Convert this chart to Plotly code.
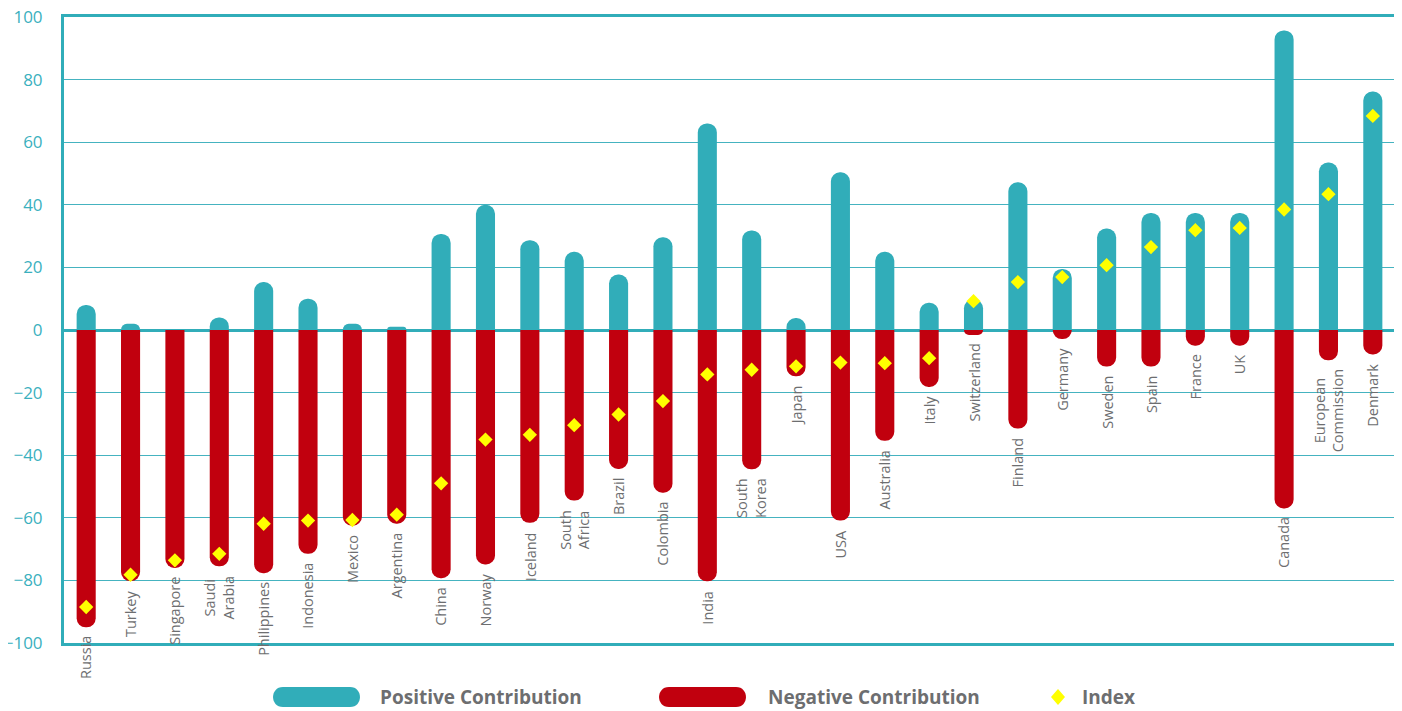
import plotly.graph_objects as go

categories = ["Russia", "Turkey", "Singapore", "Saudi Arabia", "Philippines", "Indonesia",
              "Mexico", "Argentina", "China", "Norway", "Iceland", "South Africa", "Brazil",
              "Colombia", "India", "South Korea", "Japan", "USA", "Australia", "Italy",
              "Switzerland", "Finland", "Germany", "Sweden", "Spain", "France", "UK",
              "Canada", "European Commission", "Denmark"]
tick_labels = ["Russia", "Turkey", "Singapore", "Saudi<br>Arabia", "Philippines", "Indonesia",
               "Mexico", "Argentina", "China", "Norway", "Iceland", "South<br>Africa", "Brazil",
               "Colombia", "India", "South<br>Korea", "Japan", "USA", "Australia", "Italy",
               "Switzerland", "Finland", "Germany", "Sweden", "Spain", "France", "UK",
               "Canada", "European<br>Commission", "Denmark"]
positive = [8, 2, 0, 4, 15.3, 10, 2, 1, 30.7, 40, 28.7, 25, 17.7, 29.6, 66, 31.8,
            3.8, 50.4, 25, 8.7, 9.8, 47.2, 19.5, 32.4, 37.4, 37.4, 37.4, 95.7, 53.5, 76.2]
negative = [-95, -80.2, -76, -75.5, -77.7, -71.5, -62.5, -61.9, -79.3, -74.9, -61.6, -54.5,
            -44.4, -52, -80.3, -44.5, -14.8, -60.9, -35.4, -18.2, -1.6, -31.5, -2.9, -11.7,
            -11.7, -5, -5, -57, -9.7, -7.8]
index = [-88.5, -78.2, -73.6, -71.5, -61.9, -60.9, -60.7, -59.0, -49.0, -35.0, -33.5, -30.4,
         -27.0, -22.7, -14.2, -12.7, -11.6, -10.4, -10.6, -9.0, 9.2, 15.3, 16.9, 20.7, 26.5,
         31.9, 32.6, 38.5, 43.4, 68.4]

TEAL = "#31adb9"
RED = "#c1000e"
YELLOW = "#ffff00"
GREY = "#6d6e70"
FONT = "Open Sans"

fig = go.Figure()
fig.add_trace(go.Bar(x=categories, y=positive, name="Positive Contribution",
                     marker=dict(color=TEAL, cornerradius="50%", line=dict(width=0)),
                     width=0.43))
fig.add_trace(go.Bar(x=categories, y=negative, name="Negative Contribution",
                     marker=dict(color=RED, cornerradius="50%", line=dict(width=0)),
                     width=0.43))
fig.add_trace(go.Scatter(x=categories, y=index, name="Index", mode="markers",
                         marker=dict(symbol="diamond", size=11, color=YELLOW,
                                     line=dict(width=0))))

annotations = []
for c, lab, n in zip(categories, tick_labels, negative):
    annotations.append(dict(x=c, y=n, xref="x", yref="y", text=lab, textangle=-90,
                            showarrow=False, xanchor="center", yanchor="top", yshift=-7,
                            font=dict(family=FONT, size=14.5, color=GREY)))

# custom legend (positions in page pixels, converted to paper units)
L0 = 64
PW = 1331
B0 = 643
PH = 626
def px_x(p):
    return (p - L0) / PW
def px_y(p):
    return (B0 - p) / PH

legend_y = px_y(697)
capsule = "M -33.5,-10 L 33.5,-10 C 46.8,-10 46.8,10 33.5,10 L -33.5,10 C -46.8,10 -46.8,-10 -33.5,-10 Z"
shapes = [
    dict(type="path", xref="paper", yref="paper", xsizemode="pixel", ysizemode="pixel",
         xanchor=px_x(316.5), yanchor=legend_y, path=capsule, fillcolor=TEAL,
         line=dict(width=0)),
    dict(type="path", xref="paper", yref="paper", xsizemode="pixel", ysizemode="pixel",
         xanchor=px_x(702.5), yanchor=legend_y, path=capsule, fillcolor=RED,
         line=dict(width=0)),
    dict(type="path", xref="paper", yref="paper", xsizemode="pixel", ysizemode="pixel",
         xanchor=px_x(1058), yanchor=legend_y, path="M 0,-8 L 7,0 L 0,8 L -7,0 Z",
         fillcolor=YELLOW, line=dict(width=0)),
]
for txt, xp in [("Positive Contribution", 378), ("Negative Contribution", 766), ("Index", 1080)]:
    annotations.append(dict(x=px_x(xp), y=legend_y, xref="paper", yref="paper", text="<b>%s</b>" % txt,
                            showarrow=False, xanchor="left", yanchor="middle",
                            font=dict(family=FONT, size=19, color=GREY)))

# page body has an 8px default margin, so the figure is sized/offset to compensate
fig.update_layout(
    width=1394, height=703,
    margin=dict(l=56, r=7, t=9, b=68),
    barmode="overlay",
    plot_bgcolor="white", paper_bgcolor="white",
    showlegend=False,
    font=dict(family=FONT),
    annotations=annotations,
    shapes=shapes,
    xaxis=dict(range=[-0.5, len(categories) - 0.5], showticklabels=False, showgrid=False,
               zeroline=False, showline=True, mirror=True, linecolor=TEAL, linewidth=3,
               ticks="", automargin=False),
    yaxis=dict(range=[-100, 100], tickvals=list(range(-100, 101, 20)), showgrid=True,
               gridcolor="#45b3c0", gridwidth=1.3, zeroline=True, zerolinecolor=TEAL,
               zerolinewidth=3, showline=True, mirror=True, linecolor=TEAL, linewidth=3,
               ticks="", ticklabelstandoff=15, automargin=False, ticklabeloverflow="allow",
               tickfont=dict(family=FONT, size=17, color="#3ab0be")),
)

fig.write_html("out.html")
